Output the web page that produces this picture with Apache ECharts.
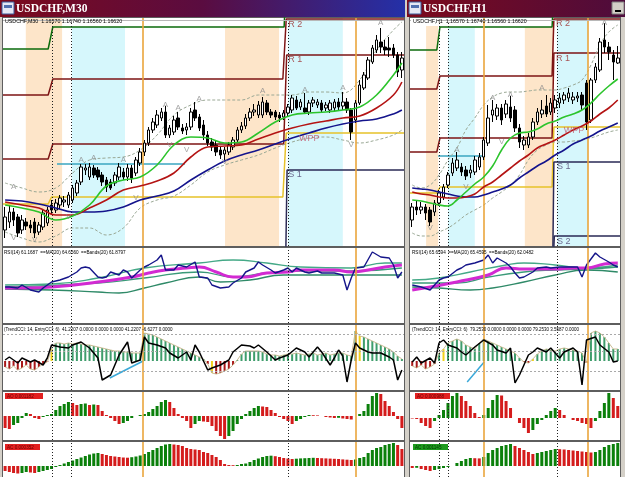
<!DOCTYPE html>
<html><head><meta charset="utf-8">
<script src="https://cdn.jsdelivr.net/npm/echarts@6/dist/echarts.min.js"></script>
<style>html,body{margin:0;padding:0;background:#d4d0c8;overflow:hidden}#c{width:625px;height:477px}</style>
</head><body><div id="c"></div>
<script>
// ================= DATA =================
const leftTitle = 'USDCHF,M30';
const rightTitle = 'USDCHF,H1';
const leftInfo = 'USDCHF,M30  1.16570 1.16740 1.16560 1.16620';
const rightInfo = 'USDCHF,H1  1.16570 1.16740 1.16560 1.16620';
const leftRsiInfo = 'RSI(14) 61.1687  ==MA(20) 64.6560  ==Bands(20) 61.8797';
const rightRsiInfo = 'RSI(14) 65.6594  ==MA(20) 65.4595  ==Bands(20) 62.0482';
const leftCciInfo = '(TrendCCI: 14, EntryCCI: 6)  41.2207 0.0000 0.0000 0.0000 41.2207 -6.6277 0.0000';
const rightCciInfo = '(TrendCCI: 14, EntryCCI: 6)  79.2530 0.0000 0.0000 0.0000 79.2530 3.5587 0.0000';
const leftAoInfo = 'AO 0.001182';
const leftAcInfo = 'AC 0.000352';
const rightAoInfo = 'AO 0.000988';
const rightAcInfo = 'AC 0.001145';
const bidPrice = 1.1662;
const cciLevels = [270, 100, -100];

// candles [open, close, low, high]
const leftCandles = [
[1.1490,1.1503,1.1482,1.1513],[1.1498,1.1508,1.1492,1.1515],[1.1508,1.1500,1.1494,1.1512],[1.1503,1.1487,1.1483,1.1506],
[1.1490,1.1500,1.1486,1.1505],[1.1498,1.1494,1.1490,1.1502],[1.1495,1.1492,1.1487,1.1500],[1.1498,1.1487,1.1482,1.1502],
[1.1488,1.1495,1.1485,1.1498],[1.1493,1.1507,1.1490,1.1510],[1.1497,1.1510,1.1494,1.1513],[1.1515,1.1510,1.1506,1.1520],
[1.1510,1.1517,1.1507,1.1521],[1.1515,1.1522,1.1511,1.1525],[1.1518,1.1520,1.1513,1.1524],[1.1515,1.1525,1.1512,1.1528],
[1.1520,1.1532,1.1517,1.1535],[1.1527,1.1537,1.1524,1.1540],[1.1538,1.1553,1.1535,1.1556],[1.1550,1.1552,1.1545,1.1556],
[1.1543,1.1553,1.1540,1.1557],[1.1552,1.1545,1.1542,1.1555],[1.1550,1.1543,1.1540,1.1553],[1.1545,1.1538,1.1534,1.1548],
[1.1540,1.1533,1.1528,1.1543],[1.1538,1.1532,1.1530,1.1541],[1.1537,1.1545,1.1534,1.1548],[1.1543,1.1553,1.1540,1.1557],
[1.1548,1.1543,1.1540,1.1552],[1.1543,1.1552,1.1539,1.1556],[1.1552,1.1542,1.1537,1.1555],[1.1547,1.1560,1.1544,1.1563],
[1.1557,1.1568,1.1554,1.1572],[1.1568,1.1577,1.1564,1.1580],[1.1577,1.1590,1.1574,1.1593],[1.1590,1.1598,1.1587,1.1602],
[1.1595,1.1605,1.1592,1.1610],[1.1602,1.1608,1.1599,1.1612],[1.1608,1.1585,1.1582,1.1614],[1.1585,1.1592,1.1582,1.1595],
[1.1588,1.1600,1.1585,1.1604],[1.1602,1.1593,1.1590,1.1608],[1.1592,1.1589,1.1586,1.1596],[1.1590,1.1593,1.1585,1.1597],
[1.1593,1.1608,1.1590,1.1612],[1.1610,1.1602,1.1599,1.1618],[1.1603,1.1592,1.1589,1.1606],[1.1595,1.1585,1.1580,1.1600],
[1.1585,1.1577,1.1574,1.1589],[1.1578,1.1573,1.1569,1.1582],[1.1575,1.1568,1.1564,1.1579],[1.1570,1.1565,1.1561,1.1574],
[1.1566,1.1570,1.1560,1.1573],[1.1568,1.1575,1.1565,1.1578],[1.1573,1.1580,1.1570,1.1583],[1.1580,1.1590,1.1577,1.1593],
[1.1590,1.1594,1.1587,1.1598],[1.1594,1.1602,1.1591,1.1606],[1.1602,1.1608,1.1599,1.1612],[1.1608,1.1610,1.1604,1.1616],
[1.1605,1.1615,1.1602,1.1619],[1.1605,1.1618,1.1602,1.1623],[1.1617,1.1608,1.1605,1.1620],[1.1608,1.1605,1.1602,1.1611],
[1.1608,1.1603,1.1600,1.1610],[1.1605,1.1602,1.1598,1.1608],[1.1603,1.1607,1.1600,1.1610],[1.1607,1.1613,1.1604,1.1616],
[1.1610,1.1622,1.1607,1.1625],[1.1620,1.1612,1.1610,1.1624],[1.1613,1.1618,1.1610,1.1621],[1.1612,1.1608,1.1606,1.1627],
[1.1608,1.1617,1.1605,1.1620],[1.1617,1.1620,1.1613,1.1623],[1.1615,1.1618,1.1612,1.1621],[1.1617,1.1610,1.1608,1.1620],
[1.1612,1.1615,1.1609,1.1618],[1.1610,1.1617,1.1607,1.1620],[1.1612,1.1618,1.1608,1.1621],[1.1618,1.1613,1.1610,1.1622],
[1.1614,1.1618,1.1610,1.1628],[1.1618,1.1610,1.1607,1.1622],[1.1610,1.1588,1.1580,1.1612],[1.1600,1.1617,1.1597,1.1620],
[1.1617,1.1635,1.1615,1.1640],[1.1632,1.1645,1.1630,1.1648],[1.1642,1.1660,1.1640,1.1663],[1.1658,1.1672,1.1656,1.1675],
[1.1670,1.1680,1.1667,1.1685],[1.1678,1.1673,1.1667,1.1692],[1.1673,1.1670,1.1665,1.1680],[1.1672,1.1670,1.1663,1.1683],
[1.1672,1.1665,1.1662,1.1676],[1.1665,1.1648,1.1643,1.1668],[1.1650,1.1662,1.1642,1.1668]
];
const rightCandles = [
[1.1500,1.1513,1.1493,1.1517],[1.1513,1.1510,1.1505,1.1520],[1.1510,1.1513,1.1506,1.1518],[1.1513,1.1507,1.1500,1.1516],
[1.1510,1.1498,1.1494,1.1513],[1.1508,1.1517,1.1504,1.1520],[1.1517,1.1527,1.1514,1.1530],[1.1523,1.1533,1.1520,1.1536],
[1.1535,1.1545,1.1532,1.1548],[1.1547,1.1557,1.1544,1.1562],[1.1552,1.1560,1.1549,1.1568],[1.1553,1.1548,1.1544,1.1557],
[1.1550,1.1544,1.1540,1.1554],[1.1547,1.1550,1.1542,1.1555],[1.1548,1.1560,1.1545,1.1564],[1.1553,1.1563,1.1550,1.1567],
[1.1563,1.1580,1.1560,1.1583],[1.1577,1.1602,1.1574,1.1615],[1.1605,1.1610,1.1598,1.1620],[1.1604,1.1612,1.1600,1.1616],
[1.1612,1.1600,1.1595,1.1616],[1.1606,1.1616,1.1602,1.1620],[1.1613,1.1602,1.1598,1.1624],[1.1610,1.1592,1.1588,1.1614],
[1.1592,1.1578,1.1572,1.1596],[1.1575,1.1580,1.1570,1.1584],[1.1575,1.1583,1.1572,1.1587],[1.1583,1.1598,1.1580,1.1602],
[1.1598,1.1608,1.1595,1.1612],[1.1606,1.1610,1.1602,1.1620],[1.1614,1.1606,1.1603,1.1625],[1.1608,1.1617,1.1605,1.1622],
[1.1612,1.1620,1.1607,1.1625],[1.1617,1.1622,1.1612,1.1627],[1.1620,1.1625,1.1616,1.1628],[1.1622,1.1627,1.1618,1.1632],
[1.1620,1.1623,1.1616,1.1628],[1.1622,1.1624,1.1618,1.1628],[1.1625,1.1615,1.1610,1.1628],[1.1637,1.1598,1.1590,1.1640],
[1.1600,1.1640,1.1597,1.1642],[1.1640,1.1653,1.1637,1.1657],[1.1650,1.1678,1.1648,1.1682],[1.1680,1.1673,1.1667,1.1697],
[1.1673,1.1668,1.1660,1.1678],[1.1665,1.1658,1.1640,1.1670],[1.1657,1.1662,1.1656,1.1674]
];

// moving averages [bar, price]
const leftFastMA = [[0,1.1515],[4,1.1512],[8,1.1508],[12,1.1500],[16,1.1504],[20,1.1515],[24,1.1534],[28,1.1540],[32,1.1543],[36,1.1555],[40,1.1575],[44,1.1583],[48,1.1582],[52,1.1577],[56,1.1578],[60,1.1587],[64,1.1598],[68,1.1605],[72,1.1607],[76,1.1608],[80,1.1610],[84,1.1613],[88,1.1625],[92,1.1645],[94,1.1657]];
const leftMidMA = [[0,1.1518],[4,1.1515],[8,1.1512],[12,1.1505],[16,1.1505],[20,1.1512],[24,1.1520],[28,1.1530],[32,1.1534],[36,1.1539],[40,1.1547],[44,1.1563],[48,1.1573],[52,1.1574],[56,1.1575],[60,1.1581],[64,1.1587],[68,1.1592],[72,1.1596],[76,1.1599],[80,1.1602],[84,1.1604],[88,1.1612],[92,1.1625],[94,1.1638]];
const leftSlowMA = [[0,1.1520],[4,1.1519],[8,1.1516],[12,1.1512],[16,1.1508],[20,1.1508],[24,1.1509],[28,1.1513],[32,1.1520],[36,1.1524],[40,1.1529],[44,1.1540],[48,1.1550],[52,1.1559],[56,1.1565],[60,1.1570],[64,1.1576],[68,1.1582],[72,1.1587],[76,1.1592],[80,1.1596],[84,1.1599],[88,1.1601],[92,1.1606],[94,1.1610]];
const leftBandUp = [[0,1.1537],[4,1.1532],[8,1.1528],[12,1.1532],[16,1.1547],[20,1.1560],[24,1.1562],[28,1.1563],[32,1.1570],[36,1.1585],[40,1.1605],[44,1.1615],[48,1.1620],[52,1.1620],[56,1.1620],[60,1.1625],[64,1.1625],[68,1.1625],[72,1.1628],[76,1.1628],[80,1.1627],[84,1.1640],[88,1.1670],[92,1.1690],[94,1.1698]];
const leftBandDn = [[0,1.1488],[4,1.1482],[8,1.1478],[12,1.1484],[16,1.1492],[20,1.1492],[24,1.1485],[28,1.1492],[32,1.1512],[36,1.1520],[40,1.1524],[44,1.1535],[48,1.1548],[52,1.1555],[56,1.1560],[60,1.1565],[64,1.1572],[68,1.1578],[72,1.1582],[76,1.1583],[80,1.1580],[84,1.1577],[88,1.1580],[92,1.1585],[94,1.1590]];
const rightFastMA = [[0,1.1520],[2,1.1519],[4,1.1517],[6,1.1515],[8,1.1514],[10,1.1520],[12,1.1528],[14,1.1536],[16,1.1543],[18,1.1554],[20,1.1570],[22,1.1582],[24,1.1587],[26,1.1588],[28,1.1591],[30,1.1596],[32,1.1599],[34,1.1603],[36,1.1606],[38,1.1610],[40,1.1617],[42,1.1626],[44,1.1634],[46,1.1641]];
const rightMidMA = [[0,1.1528],[2,1.1526],[4,1.1525],[6,1.1523],[8,1.1522],[10,1.1522],[12,1.1523],[14,1.1526],[16,1.1533],[18,1.1538],[20,1.1545],[22,1.1552],[24,1.1559],[26,1.1565],[28,1.1572],[30,1.1576],[32,1.1580],[34,1.1585],[36,1.1590],[38,1.1594],[40,1.1599],[42,1.1606],[44,1.1612],[46,1.1620]];
const rightSlowMA = [[0,1.1532],[2,1.1531],[4,1.1530],[6,1.1528],[8,1.1526],[10,1.1524],[12,1.1523],[14,1.1523],[16,1.1525],[18,1.1528],[20,1.1531],[22,1.1535],[24,1.1542],[26,1.1548],[28,1.1554],[30,1.1559],[32,1.1565],[34,1.1570],[36,1.1576],[38,1.1580],[40,1.1584],[42,1.1589],[44,1.1593],[46,1.1597]];
const rightBandUp = [[0,1.1535],[2,1.1532],[4,1.1535],[6,1.1545],[8,1.1560],[10,1.1572],[12,1.1590],[14,1.1602],[16,1.1615],[18,1.1623],[20,1.1627],[22,1.1628],[24,1.1628],[26,1.1629],[28,1.1630],[30,1.1630],[32,1.1630],[34,1.1632],[36,1.1635],[38,1.1640],[40,1.1655],[42,1.1675],[44,1.1688],[46,1.1695]];
const rightBandDn = [[0,1.1487],[2,1.1484],[4,1.1484],[6,1.1488],[8,1.1492],[10,1.1498],[12,1.1505],[14,1.1510],[16,1.1515],[18,1.1522],[20,1.1528],[22,1.1535],[24,1.1545],[26,1.1560],[28,1.1570],[30,1.1575],[32,1.1578],[34,1.1578],[36,1.1579],[38,1.1580],[40,1.1582],[42,1.1585],[44,1.1588],[46,1.1590]];

// fractals [bar, price]
const leftFractalUp = [[2,1.1533],[18,1.1560],[21,1.1562],[28,1.1560],[38,1.1615],[41,1.1612],[46,1.1621],[61,1.1629],[71,1.1630],[80,1.1632],[89,1.1697]];
const leftFractalDn = [[2,1.1482],[7,1.1480],[15,1.1503],[31,1.1522],[39,1.1575],[43,1.1570],[52,1.1558],[82,1.1575]];
const rightFractalUp = [[10,1.1570],[18,1.1622],[22,1.1625],[29,1.1632],[43,1.1697]];
const rightFractalDn = [[4,1.1492],[12,1.1533],[20,1.1578]];

// pivot level step lines [bar, price]
const leftR3 = [[-0.5,1.1671],[10.2,1.1671],[11.3,1.1693],[66.1,1.1693],[66.3,1.1712]];
const leftR2 = [[-0.5,1.1625],[10.2,1.1625],[11.3,1.1641],[65.8,1.1641],[66.6,1.1701],[94.5,1.1701]];
const leftR1 = [[-0.5,1.1561],[10.2,1.1561],[11.3,1.1576],[66.0,1.1576],[66.7,1.1665],[94.5,1.1665]];
const leftPP = [[-0.5,1.1516],[10.2,1.1516],[11.0,1.1523],[65.8,1.1523],[66.6,1.1587],[94.5,1.1587]];
const leftS1 = [[66.4,1.1440],[66.8,1.1550],[94.5,1.1550]];
const rightR3 = [[-0.5,1.1670],[5.5,1.1670],[6.2,1.1693],[31.3,1.1693],[31.5,1.1712]];
const rightR2 = [[-0.5,1.1631],[5.5,1.1631],[6.2,1.1644],[31.3,1.1644],[31.7,1.1701],[46.5,1.1701]];
const rightR1 = [[-0.5,1.1568],[5.5,1.1568],[6.2,1.1582],[31.3,1.1582],[31.7,1.1667],[46.5,1.1667]];
const rightPP = [[-0.5,1.1527],[5.5,1.1527],[6.2,1.1533],[31.3,1.1533],[31.7,1.1593],[46.5,1.1593]];
const rightS1 = [[31.4,1.1440],[31.7,1.1558],[46.5,1.1558]];
const rightS2 = [[31.4,1.1440],[31.8,1.1484],[46.5,1.1484]];
const leftTeal = [[12.3,1.1556],[42.6,1.1556]];
const rightTeal = [[5.8,1.1564],[16.3,1.1564]];
const leftPivotLabels = [['R 2',67.1,1.1695],['R 1',67.1,1.1660],['WPP',69.6,1.1581],['S 1',67.1,1.1545]];
const rightPivotLabels = [['R 2',32.2,1.1696],['R 1',32.2,1.1661],['WPP',33.9,1.1589],['S 1',32.4,1.1553],['S 2',32.4,1.1478]];

// session shading [fromBar, toBar, topPrice|null]
const leftPeach = [[4.9,13.5,null],[52.1,64.9,1.1694]];
const leftCyan = [[15.8,28.4,1.1693],[67.0,80.0,null]];
const rightPeach = [[3.1,5.8,null],[25.2,31.5,1.1693]];
const rightCyan = [[8.0,14.0,1.1693],[32.4,39.4,null]];
// vertical time markers (bar positions)
const leftDotted = [11.1, 15.6, 67.0];
const leftOrange = [32.7, 83.1];
const rightDotted = [6.0, 8.0, 32.4];
const rightOrange = [16.1, 39.3];

// RSI [bar, value]
const leftRsi = [[0,46],[1,46],[3,45],[4,48],[6,43],[8,41],[9,45],[11,51],[13,53],[15,56],[17,61],[18,65],[19,66],[20,65],[22,56],[23,55],[24,56],[25,61],[27,58],[28,63],[29,61],[30,55],[32,63],[33,66],[34,68],[36,73],[37,78],[38,63],[40,63],[41,68],[43,66],[45,71],[46,56],[48,55],[49,48],[51,45],[53,46],[54,50],[56,55],[57,61],[59,65],[60,71],[61,68],[63,63],[64,60],[66,63],[67,65],[68,61],[69,65],[71,61],[72,60],[74,62],[75,60],[78,60],[80,58],[81,43],[82,55],[83,65],[85,66],[87,81],[89,76],[91,75],[92,68],[93,55],[94,61]];
const leftRsiMa = [[0,45],[5,45],[11,46],[22,51],[30,56],[34,60],[38,63],[43,65],[46,66],[50,61],[54,56],[57,56],[62,60],[67,61],[70,63],[78,63],[82,61],[86,63],[90,66],[94,68]];
const leftRsiUp = [[0,48],[11,49],[22,55],[33,65],[46,70],[54,73],[62,70],[70,66],[82,65],[90,70],[94,70]];
const leftRsiMid = [[0,46],[22,50],[33,55],[46,61],[54,56],[62,60],[70,62],[82,62],[94,65]];
const leftRsiDn = [[0,44],[11,43],[22,41],[27,40],[33,45],[38,50],[46,56],[51,51],[58,53],[66,58],[74,58],[82,58],[90,58],[94,58]];
const rightRsi = [[0,48],[2,46],[4,43],[6,53],[7,55],[8,56],[10,63],[11,65],[12,68],[14,70],[16,73],[17,78],[18,70],[19,75],[21,70],[22,66],[23,60],[24,55],[25,56],[27,61],[28,65],[30,66],[31,65],[33,66],[36,66],[37,66],[38,56],[39,68],[41,80],[42,76],[44,71],[45,68],[46,66]];
const rightRsiMa = [[0,43],[4,46],[10,51],[17,58],[21,65],[25,64],[32,64],[36,65],[39,65],[43,69],[46,70]];
const rightRsiUp = [[0,53],[6,55],[13,61],[21,68],[25,70],[32,68],[39,65],[46,68]];
const rightRsiMid = [[0,50],[10,50],[17,56],[25,61],[32,63],[39,64],[46,66]];
const rightRsiDn = [[0,46],[6,45],[13,43],[18,45],[25,51],[32,58],[39,63],[46,61]];

// CCI
const leftCci = [[0,10],[1,40],[3,-20],[4,30],[6,-10],[7,10],[9,-40],[10,30],[11,160],[13,140],[15,130],[16,160],[18,190],[20,130],[22,30],[23,-190],[25,-140],[27,60],[29,190],[30,-20],[32,10],[33,240],[34,180],[36,160],[38,130],[39,80],[41,30],[43,90],[44,10],[45,160],[46,90],[48,-90],[49,-70],[51,-40],[53,10],[54,90],[56,160],[58,150],[59,130],[60,160],[62,90],[64,10],[65,30],[67,60],[69,130],[71,90],[72,40],[74,140],[75,90],[77,-40],[78,30],[79,110],[80,50],[81,-210],[82,10],[83,180],[84,130],[86,90],[87,80],[89,80],[91,40],[92,10],[93,-190],[94,-90]];
const rightCci = [[0,-10],[1,40],[2,-20],[4,30],[5,-20],[6,180],[7,210],[8,160],[10,130],[11,90],[12,60],[14,140],[16,210],[18,160],[19,110],[21,80],[22,130],[23,-220],[24,-140],[26,60],[27,90],[28,130],[30,90],[31,130],[33,30],[34,90],[36,130],[37,90],[38,-240],[39,210],[41,240],[42,160],[44,90],[45,-10],[46,0]];
const leftCciHist = [-60,-80,-50,-90,-70,-40,-80,-90,-60,-30,-10,120,180,180,170,180,170,180,170,160,160,150,140,130,120,110,100,100,90,90,80,80,80,280,270,260,240,220,200,180,160,140,120,100,80,60,40,20,-30,-120,-130,-120,-100,-80,-40,10,70,100,100,100,100,90,70,60,60,50,60,70,70,80,70,60,70,80,60,70,80,60,70,80,80,60,50,300,250,240,220,200,180,160,140,120,90,50,20];
const rightCciHist = [-50,-70,-40,-80,-60,-30,80,120,180,200,220,200,160,140,120,180,220,200,180,160,140,120,100,80,30,-10,-20,20,70,100,120,110,100,120,130,120,110,100,80,-20,280,300,280,240,180,120,120];
const leftCciSignal = [11, 49, 84];
const rightCciSignal = [7, 27];
const leftCciTrend = [[24.8,-170],[32.7,0]];
const rightCciTrend = [[12.3,-210],[16.1,-10]];

// oscillators (pips)
const leftAo = [-12,-13,-9,-7,-2,3,2,-2,-3,-1,1,2,6,10,12,14,13,11,12,12.5,11,11.5,11,5,1,-2,-5,-8,-7,-5,-2,0,1,2,4,7,10,14,16,14,8,2,-2,-5,-12,-8,-5,-5.5,-6,-10,-15,-20,-23,-20,-15,-8,-3,2,5,8,10,9.5,9,6,3,-1,-3,-5,-8,-5,-3,-1,1,0.8,0.6,0,-1,-1.5,-2,-1.8,-2.5,-3,-3.5,0,2,5,12,20,23,22,15,10,4,-3,-12];
const leftAc = [-5,-6,-7,-7.5,-7,-6,-6.5,-7,-6,-5,-4,-3,-1,1,2.5,4,5.5,7,8.5,10,11.5,12.5,13,12,11,10,9.5,9,8.5,8.3,8.8,9.5,10.5,12,14,16,18,20,21.5,22,21.5,21,20,18,17,16.5,16,14,13,11,9,6,2,1,0.8,1,2,2.5,4,6,7.5,9,10,10.3,9.8,9,8,7.5,7,7.3,7.6,7.8,8,8.2,8,7.8,7.6,7.4,7.2,7,6.6,6.3,6,6.5,8,9,13,16,18,19,21,22,23,21,17];
const rightAo = [-0.5,-1,-5,-8,-10,-3,3,8,15,22,25,22,17,12,5,1,3,10,18,23,22.5,17,10,0,-5,-10,-15,-12,-6,-2,3,7,10,8,3,0,-2,-3,-5,-6,-10,-3,7,15,25,20,12];
const rightAc = [-2,-1.8,-3,-4,-5,-4,-3,-2,-1,0,3,5,7,8,7.8,7.6,9,13,16,18,20,21,22,20,18,16,14,12,13,14,15,16,17,16.8,16.5,16,15.5,15,14.5,14,13.5,14,16,19,21,22,23];

// ================= LAYOUT / RENDER =================
const WIN = [{x: 3, w: 401}, {x: 410, w: 210}];
const PANE = [{y: 18, h: 228}, {y: 248, h: 75}, {y: 325, h: 65}, {y: 392, h: 48}, {y: 442, h: 35}];
const PMIN = 1.1474, PMAX = 1.1702;
const grid = [], xAxis = [], yAxis = [], series = [];

function addGrid(w, p, n, ymin, ymax) {
  const g = grid.length;
  grid.push({left: WIN[w].x, top: PANE[p].y, width: WIN[w].w, height: PANE[p].h, show: true, backgroundColor: '#ffffff', borderWidth: 0, z: 1});
  xAxis.push({type: 'category', gridIndex: g, data: Array.from({length: n}, (_, i) => String(i)), show: false, boundaryGap: true});
  xAxis.push({type: 'value', gridIndex: g, min: -0.5, max: n - 0.5, show: false});
  yAxis.push({type: 'value', gridIndex: g, min: ymin, max: ymax, show: false});
  return g;
}
function L(g, data, style, extra) {
  series.push(Object.assign({type: 'line', xAxisIndex: 2 * g + 1, yAxisIndex: g, data: data, symbol: 'none', silent: true, z: 4, lineStyle: style}, extra || {}));
}
function area(a, color) {
  if (a[2] === null) return [{xAxis: a[0], itemStyle: {color: color}}, {xAxis: a[1]}];
  return [{xAxis: a[0], yAxis: a[2], itemStyle: {color: color}}, {xAxis: a[1], yAxis: PMIN}];
}
function upDown(vals) {
  return vals.map((v, i) => ({value: v, itemStyle: {color: (i === 0 ? v >= 0 : v >= vals[i - 1]) ? '#0b800b' : '#d41c1c'}}));
}

function buildWindow(w, d) {
  const n = d.candles.length;
  const gs = [
    addGrid(w, 0, n, PMIN, PMAX),
    addGrid(w, 1, n, 10, 85),
    addGrid(w, 2, n, -290, 360),
    addGrid(w, 3, n, d.aoMin, d.aoMax),
    addGrid(w, 4, n, -11, 24)
  ];
  const vl = d.dotted.map(x => ({xAxis: x, lineStyle: {type: [1, 2], color: '#202020', width: 1}}))
    .concat(d.orange.map(x => ({xAxis: x, lineStyle: {type: 'solid', color: '#eaa53c', width: 1.6}})));
  gs.forEach((g, k) => {
    const s = {type: 'line', xAxisIndex: 2 * g + 1, yAxisIndex: g, data: [], z: 2, silent: true,
      markLine: {silent: true, symbol: ['none', 'none'], label: {show: false}, animation: false, data: vl.slice()}};
    if (k === 0) {
      s.markArea = {silent: true, animation: false, data: d.peach.map(a => area(a, '#fde5c9')).concat(d.cyan.map(a => area(a, '#d6f7fc')))};
      s.markLine.data.push({yAxis: bidPrice, lineStyle: {type: 'solid', color: '#b8b8b8', width: 1}});
    }
    if (k === 2) {
      cciLevels.forEach(v => s.markLine.data.push({yAxis: v, lineStyle: {type: [2, 2], color: '#a9a9a9', width: 1}}));
    }
    series.push(s);
  });
  const gm = gs[0], gr = gs[1], gc = gs[2], ga = gs[3], gb = gs[4];
  // pivots
  L(gm, d.r3, {color: '#0b6b0b', width: 1.5}, {z: 3});
  L(gm, d.r2, {color: '#7d1414', width: 1.5}, {z: 3});
  L(gm, d.r1, {color: '#7d1414', width: 1.5}, {z: 3});
  L(gm, d.pp, {color: '#e6c22a', width: 1.5}, {z: 3});
  d.s.forEach(sv => L(gm, sv, {color: '#2a2a55', width: 1.5}, {z: 3}));
  L(gm, d.teal, {color: '#3aa6c0', width: 1.5}, {z: 3});
  // bands and MAs
  L(gm, d.bandUp, {color: '#9aa895', width: 1, type: [3, 2]}, {smooth: 0.4});
  L(gm, d.bandDn, {color: '#9aa895', width: 1, type: [3, 2]}, {smooth: 0.4});
  series.push({type: 'candlestick', xAxisIndex: 2 * gm, yAxisIndex: gm, data: d.candles, barWidth: 3, silent: true, z: 5,
    itemStyle: {color: '#ffffff', color0: '#000000', borderColor: '#000000', borderColor0: '#000000', borderWidth: 1}});
  L(gm, d.slow, {color: '#14148c', width: 1.6}, {smooth: 0.4, z: 6});
  L(gm, d.mid, {color: '#b41414', width: 1.6}, {smooth: 0.4, z: 6});
  L(gm, d.fast, {color: '#2cc42c', width: 1.6}, {smooth: 0.4, z: 6});
  [['A', d.fUp], ['V', d.fDn]].forEach(f => {
    series.push({type: 'scatter', xAxisIndex: 2 * gm + 1, yAxisIndex: gm, data: f[1], symbolSize: 0, silent: true, z: 7,
      label: {show: true, position: 'inside', formatter: f[0], color: '#8c8c8c', fontSize: 8, fontFamily: 'Liberation Sans'}});
  });
  series.push({type: 'scatter', xAxisIndex: 2 * gm + 1, yAxisIndex: gm, symbolSize: 0, silent: true, z: 7,
    data: d.pl.map(p => ({value: [p[1], p[2]], label: {formatter: p[0], color: p[0][0] === 'S' ? '#4f4470' : (p[0] === 'WPP' ? '#c0546a' : '#9b2c2c')}})),
    label: {show: true, position: 'right', distance: 0, fontSize: 9, fontFamily: 'Liberation Sans'}});
  // RSI
  L(gr, d.rsiUp, {color: '#45a987', width: 1.3}, {smooth: 0.5});
  L(gr, d.rsiMid, {color: '#3a9a78', width: 1.3}, {smooth: 0.5});
  L(gr, d.rsiDn, {color: '#2f8a68', width: 1.3}, {smooth: 0.5});
  L(gr, d.rsiMa, {color: '#d22ad2', width: 3}, {smooth: 0.5});
  L(gr, d.rsi, {color: '#15158a', width: 1.4});
  // CCI
  series.push({type: 'bar', xAxisIndex: 2 * gc, yAxisIndex: gc, barWidth: 2, silent: true, z: 3,
    data: d.cciHist.map((v, i) => ({value: v, itemStyle: {color: d.cciSig.indexOf(i) >= 0 ? '#f2d21c' : (v < 0 ? '#a81818' : '#3f9d6c')}}))});
  series.push({type: 'line', xAxisIndex: 2 * gc, yAxisIndex: gc, data: d.cciHist, symbol: 'none', silent: true, z: 4, lineStyle: {color: '#cbbd96', width: 1}});
  L(gc, d.cciTrend, {color: '#3aa8d8', width: 1.5});
  L(gc, d.cci, {color: '#000000', width: 1.5}, {z: 5});
  // AO / AC
  series.push({type: 'bar', xAxisIndex: 2 * ga, yAxisIndex: ga, barWidth: 3, silent: true, z: 3, data: upDown(d.ao)});
  series.push({type: 'bar', xAxisIndex: 2 * gb, yAxisIndex: gb, barWidth: 3, silent: true, z: 3, data: upDown(d.ac)});
}

buildWindow(0, {candles: leftCandles, fast: leftFastMA, mid: leftMidMA, slow: leftSlowMA, bandUp: leftBandUp, bandDn: leftBandDn,
  fUp: leftFractalUp, fDn: leftFractalDn, r3: leftR3, r2: leftR2, r1: leftR1, pp: leftPP, s: [leftS1], teal: leftTeal, pl: leftPivotLabels,
  peach: leftPeach, cyan: leftCyan, dotted: leftDotted, orange: leftOrange,
  rsi: leftRsi, rsiMa: leftRsiMa, rsiUp: leftRsiUp, rsiMid: leftRsiMid, rsiDn: leftRsiDn,
  cci: leftCci, cciHist: leftCciHist, cciSig: leftCciSignal, cciTrend: leftCciTrend,
  ao: leftAo, ac: leftAc, aoMin: -24, aoMax: 24});
buildWindow(1, {candles: rightCandles, fast: rightFastMA, mid: rightMidMA, slow: rightSlowMA, bandUp: rightBandUp, bandDn: rightBandDn,
  fUp: rightFractalUp, fDn: rightFractalDn, r3: rightR3, r2: rightR2, r1: rightR1, pp: rightPP, s: [rightS1, rightS2], teal: rightTeal, pl: rightPivotLabels,
  peach: rightPeach, cyan: rightCyan, dotted: rightDotted, orange: rightOrange,
  rsi: rightRsi, rsiMa: rightRsiMa, rsiUp: rightRsiUp, rsiMid: rightRsiMid, rsiDn: rightRsiDn,
  cci: rightCci, cciHist: rightCciHist, cciSig: rightCciSignal, cciTrend: rightCciTrend,
  ao: rightAo, ac: rightAc, aoMin: -22, aoMax: 26});

const SMALL = '"Liberation Sans", Arial, sans-serif';
const TITLEFONT = 'bold 11.5px "Liberation Serif", "DejaVu Serif", serif';
const graphic = [
  {type: 'rect', shape: {x: 2, y: 17, width: 403, height: 460}, style: {fill: '#5e5e5e'}, z: 0},
  {type: 'rect', shape: {x: 409, y: 17, width: 212, height: 460}, style: {fill: '#5e5e5e'}, z: 0},
  {type: 'rect', shape: {x: 0, y: 0, width: 405, height: 17}, z: 50,
    style: {fill: {type: 'linear', x: 0, y: 0, x2: 1, y2: 0, colorStops: [{offset: 0, color: '#7c0a1c'}, {offset: 0.5, color: '#5a0c40'}, {offset: 1, color: '#2430a8'}]}}},
  {type: 'rect', shape: {x: 407, y: 0, width: 218, height: 17}, z: 50,
    style: {fill: {type: 'linear', x: 0, y: 0, x2: 1, y2: 0, colorStops: [{offset: 0, color: '#7c0a1c'}, {offset: 1, color: '#4e0c3c'}]}}},
  {type: 'rect', shape: {x: 2, y: 2, width: 12, height: 12}, style: {fill: '#e4e8f4', stroke: '#3a5a9a', lineWidth: 1}, z: 51},
  {type: 'rect', shape: {x: 4, y: 5, width: 8, height: 3}, style: {fill: '#5070b0'}, z: 52},
  {type: 'rect', shape: {x: 409, y: 2, width: 12, height: 12}, style: {fill: '#e4e8f4', stroke: '#3a5a9a', lineWidth: 1}, z: 51},
  {type: 'rect', shape: {x: 411, y: 5, width: 8, height: 3}, style: {fill: '#5070b0'}, z: 52},
  {type: 'rect', shape: {x: 612, y: 2, width: 12, height: 12}, style: {fill: '#d4d0c8', stroke: '#808080', lineWidth: 1}, z: 51},
  {type: 'rect', shape: {x: 615, y: 10, width: 6, height: 2}, style: {fill: '#000000'}, z: 52},
  {type: 'text', x: 16, y: 3, z: 53, style: {text: leftTitle, fill: '#ffffff', font: TITLEFONT, verticalAlign: 'top'}},
  {type: 'text', x: 423, y: 3, z: 53, style: {text: rightTitle, fill: '#ffffff', font: TITLEFONT, verticalAlign: 'top'}},
  {type: 'rect', shape: {x: 411, y: 18, width: 27, height: 8}, style: {fill: '#ffffff'}, z: 59},
  {type: 'text', x: 5, y: 19.5, z: 60, style: {text: leftInfo, fill: '#000000', font: '5.3px ' + SMALL, verticalAlign: 'top'}},
  {type: 'text', x: 413, y: 19.5, z: 60, style: {text: rightInfo, fill: '#000000', font: '5.3px ' + SMALL, verticalAlign: 'top'}},
  {type: 'text', x: 4, y: 250, z: 60, style: {text: leftRsiInfo, fill: '#000000', font: '4.6px ' + SMALL, verticalAlign: 'top'}},
  {type: 'text', x: 412, y: 250, z: 60, style: {text: rightRsiInfo, fill: '#000000', font: '4.6px ' + SMALL, verticalAlign: 'top'}},
  {type: 'text', x: 4, y: 327, z: 60, style: {text: leftCciInfo, fill: '#000000', font: '4.5px ' + SMALL, verticalAlign: 'top'}},
  {type: 'text', x: 412, y: 327, z: 60, style: {text: rightCciInfo, fill: '#000000', font: '4.5px ' + SMALL, verticalAlign: 'top'}},
  {type: 'rect', shape: {x: 5, y: 393, width: 38, height: 6}, style: {fill: '#e22020'}, z: 60},
  {type: 'text', x: 7, y: 393.8, z: 61, style: {text: leftAoInfo, fill: '#6a0000', font: '4.6px ' + SMALL, verticalAlign: 'top'}},
  {type: 'rect', shape: {x: 5, y: 444, width: 35, height: 6}, style: {fill: '#e22020'}, z: 60},
  {type: 'text', x: 7, y: 444.8, z: 61, style: {text: leftAcInfo, fill: '#6a0000', font: '4.6px ' + SMALL, verticalAlign: 'top'}},
  {type: 'rect', shape: {x: 415, y: 393, width: 35, height: 6}, style: {fill: '#e22020'}, z: 60},
  {type: 'text', x: 417, y: 393.8, z: 61, style: {text: rightAoInfo, fill: '#6a0000', font: '4.6px ' + SMALL, verticalAlign: 'top'}},
  {type: 'rect', shape: {x: 413, y: 444, width: 35, height: 6}, style: {fill: '#1e9a1e'}, z: 60},
  {type: 'text', x: 415, y: 444.8, z: 61, style: {text: rightAcInfo, fill: '#003800', font: '4.6px ' + SMALL, verticalAlign: 'top'}}
];

const chart = echarts.init(document.getElementById('c'), null, {renderer: 'canvas', width: 625, height: 477});
chart.setOption({
  backgroundColor: '#d4d0c8',
  animation: false,
  grid: grid, xAxis: xAxis, yAxis: yAxis, series: series, graphic: graphic
});
</script></body></html>
